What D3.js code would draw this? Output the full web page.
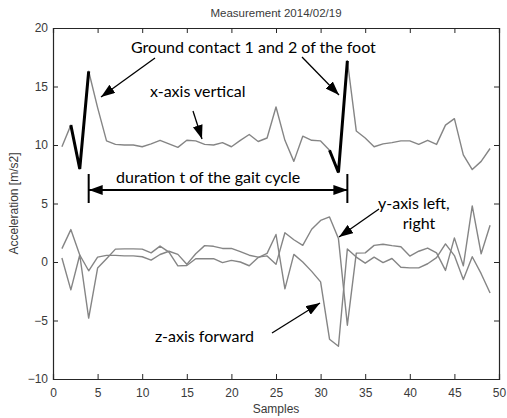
<!DOCTYPE html>
<html>
<head>
<meta charset="utf-8">
<script src="https://cdn.jsdelivr.net/npm/d3@7"></script>
<style>
  body { margin: 0; background: #fff; }
  svg { display: block; }
</style>
</head>
<body>
<svg id="chart" width="507" height="418"></svg>
<script>
// ---- Data (samples 1..49) ----
const xTicks = [0, 5, 10, 15, 20, 25, 30, 35, 40, 45, 50];
const yTicks = [-10, -5, 0, 5, 10, 15, 20];

const xAxisVertical = [
  9.85, 11.7, 7.95, 16.3, 13.2, 10.35, 10.05, 10.0, 10.0, 9.85,
  10.1, 10.4, 10.1, 9.8, 10.4, 10.35, 10.05, 10.0, 10.2, 9.85,
  10.4, 10.9, 10.3, 10.6, 13.25, 10.4, 8.6, 10.75, 10.4, 10.35,
  9.55, 7.65, 17.2, 11.2, 10.6, 9.85, 10.1, 10.2, 10.35, 10.35,
  10.05, 10.4, 10.05, 11.7, 12.25, 9.15, 7.9, 8.6, 9.7
];

const yAxisLeftRight = [
  1.14, 2.77, 0.6, -0.75, 0.42, 0.57, 0.57, 0.52, 0.52, 0.45,
  0.16, 0.64, 0.92, 0.65, -0.2, 0.71, 1.4, 1.34, 1.16, 1.16,
  0.88, 0.58, 0.42, 0.52, -0.2, 2.5, 1.9, 1.42, 2.8, 3.55,
  3.85, 2.0, -5.4, 0.76, 0.78, 1.42, 1.52, 1.4, 1.3, 0.51,
  0.92, 1.19, 0.78, -0.72, 2.06, -0.33, 4.8, 0.7, 3.14
];

const zAxisForward = [
  0.34, -2.38, 0.6, -4.8, -0.52, 0.28, 1.1, 1.12, 1.12, 1.1,
  0.78, 1.36, 0.85, -0.33, -0.3, 0.28, 0.28, 0.28, -0.05, 0.14,
  0.0, -0.32, 0.38, 0.74, 2.35, -2.3, 0.65, 0.0, -0.8, -1.7,
  -6.6, -7.2, 1.12, 0.42, -0.1, 0.42, -0.05, 0.3, -0.45, -0.5,
  -0.5, -0.15, 0.38, 1.55, 0.55, -1.5, 0.45, -1.0, -2.65
];

// ground contact stretches (sample ranges), drawn thick
const contactSegments = [[2, 4], [31, 33]];
// gait cycle: from sample to sample
const gaitCycle = [4, 33];

(function () {
  'use strict';

  const width = 507;
  const height = 418;
  const margin = { top: 28, right: 8, bottom: 39, left: 53 };
  const annoFont = "Lato, 'Open Sans', sans-serif";
  const axisFont = "'Liberation Sans', Arial, sans-serif";

  const svg = d3.select('#chart');

  const x = d3.scaleLinear().domain([0, 50]).range([margin.left, width - margin.right]);
  const y = d3.scaleLinear().domain([-10, 20]).range([height - margin.bottom, margin.top]);

  const samples = d3.range(1, xAxisVertical.length + 1);

  // ---- Arrow marker ----
  svg.append('defs')
    .append('marker')
    .attr('id', 'head')
    .attr('viewBox', '0 0 14 10')
    .attr('refX', 14)
    .attr('refY', 5)
    .attr('markerWidth', 14)
    .attr('markerHeight', 10)
    .attr('markerUnits', 'userSpaceOnUse')
    .attr('orient', 'auto-start-reverse')
    .append('path')
    .attr('d', 'M0,0 L14,5 L0,10 Z')
    .attr('fill', '#000');

  // ---- Axes (MATLAB style, ticks inside on all sides) ----
  const tickLen = 5;
  const axisColor = '#262626';
  const textColor = '#3a3a3a';

  svg.append('g')
    .attr('transform', 'translate(0,' + y(-10) + ')')
    .call(d3.axisBottom(x).tickValues(xTicks).tickSize(-tickLen).tickPadding(9))
    .call(styleAxis);

  svg.append('g')
    .attr('transform', 'translate(0,' + y(20) + ')')
    .call(d3.axisTop(x).tickValues(xTicks).tickSize(-tickLen).tickFormat(''))
    .call(styleAxis);

  svg.append('g')
    .attr('transform', 'translate(' + x(0) + ',0)')
    .call(d3.axisLeft(y).tickValues(yTicks).tickSize(-tickLen).tickPadding(5))
    .call(styleAxis);

  svg.append('g')
    .attr('transform', 'translate(' + x(50) + ',0)')
    .call(d3.axisRight(y).tickValues(yTicks).tickSize(-tickLen).tickFormat(''))
    .call(styleAxis);

  function styleAxis(g) {
    g.select('.domain').attr('stroke', axisColor).attr('stroke-width', 1.2);
    g.selectAll('.tick line').attr('stroke', axisColor);
    g.selectAll('.tick text')
      .attr('fill', textColor)
      .attr('font-size', 12)
      .attr('font-family', axisFont);
  }

  // ---- Title and axis labels ----
  svg.append('text')
    .attr('x', (x(0) + x(50)) / 2)
    .attr('y', 17)
    .attr('text-anchor', 'middle')
    .attr('font-size', 11.5)
    .attr('font-family', axisFont)
    .attr('fill', textColor)
    .text('Measurement 2014/02/19');

  svg.append('text')
    .attr('x', (x(0) + x(50)) / 2)
    .attr('y', 413)
    .attr('text-anchor', 'middle')
    .attr('font-size', 12)
    .attr('font-family', axisFont)
    .attr('fill', textColor)
    .text('Samples');

  svg.append('text')
    .attr('transform', 'translate(18,' + y(5) + ') rotate(-90)')
    .attr('text-anchor', 'middle')
    .attr('font-size', 12)
    .attr('font-family', axisFont)
    .attr('fill', textColor)
    .text('Acceleration [m/s2]');

  // ---- Series ----
  const line = d3.line()
    .x(function (d) { return x(d.s); })
    .y(function (d) { return y(d.v); });

  function toPoints(values) {
    return values.map(function (v, i) {
      return { s: samples[i], v: v };
    });
  }

  [zAxisForward, yAxisLeftRight, xAxisVertical].forEach(function (values) {
    svg.append('path')
      .datum(toPoints(values))
      .attr('d', line)
      .attr('fill', 'none')
      .attr('stroke', '#858585')
      .attr('stroke-width', 1.4)
      .attr('stroke-linejoin', 'round');
  });

  // thick black ground contact parts of the vertical signal
  const vertPoints = toPoints(xAxisVertical);
  contactSegments.forEach(function (seg) {
    svg.append('path')
      .datum(vertPoints.filter(function (d) { return d.s >= seg[0] && d.s <= seg[1]; }))
      .attr('d', line)
      .attr('fill', 'none')
      .attr('stroke', '#000')
      .attr('stroke-width', 3)
      .attr('stroke-linejoin', 'miter');
  });

  // ---- Annotations ----
  function arrow(x1, y1, x2, y2, w) {
    svg.append('line')
      .attr('x1', x1).attr('y1', y1)
      .attr('x2', x2).attr('y2', y2)
      .attr('stroke', '#000')
      .attr('stroke-width', w || 1.3)
      .attr('marker-end', 'url(#head)');
  }

  function label(tx, ty, str, anchor) {
    svg.append('text')
      .attr('x', tx)
      .attr('y', ty)
      .attr('text-anchor', anchor || 'start')
      .attr('font-size', 16)
      .attr('font-family', annoFont)
      .attr('fill', '#000')
      .text(str);
  }

  label(131, 53, 'Ground contact 1 and 2 of the foot');
  arrow(155, 58, 101, 97);
  arrow(302, 57, 339, 95);

  label(150, 97, 'x-axis vertical');
  arrow(193, 111, 202, 139);

  label(116, 183, 'duration t of the gait cycle');
  const gy = 190;
  svg.append('line')
    .attr('x1', x(gaitCycle[0])).attr('y1', gy)
    .attr('x2', x(gaitCycle[1])).attr('y2', gy)
    .attr('stroke', '#000')
    .attr('stroke-width', 2)
    .attr('marker-start', 'url(#head)')
    .attr('marker-end', 'url(#head)');
  gaitCycle.forEach(function (s) {
    svg.append('line')
      .attr('x1', x(s)).attr('y1', 174)
      .attr('x2', x(s)).attr('y2', 203)
      .attr('stroke', '#000')
      .attr('stroke-width', 2);
  });

  label(378, 209, 'y-axis left,');
  label(419, 229, 'right', 'middle');
  arrow(379, 209, 339, 237);

  label(155, 342, 'z-axis forward');
  arrow(272, 333, 320, 303);
})();
</script>
</body>
</html>
